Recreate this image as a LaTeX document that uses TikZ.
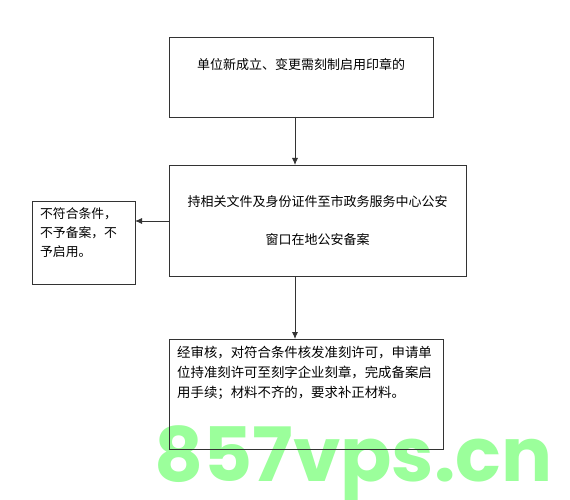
\documentclass[tikz,border=0pt]{standalone}
\usepackage{fontspec}
\setmainfont{Noto Sans CJK SC}
\newfontfamily\wmfont{Poppins}
\usetikzlibrary{arrows.meta}
\definecolor{wmgreen}{RGB}{155,255,155}
\begin{document}
\begin{tikzpicture}[x=1bp,y=-1bp,
  box/.style={draw=black!80,line width=0.9bp},
  txt/.style={inner sep=0pt,font=\fontsize{13bp}{20bp}\selectfont},
  arr/.style={draw=black!80,line width=0.9bp,-{Latex[length=7bp,width=6bp]}}]
\useasboundingbox (0,0) rectangle (570,500);
\fill[white] (0,0) rectangle (570,500);
% watermark
\node[anchor=base west,inner sep=0pt,text=wmgreen,font=\wmfont\bfseries\fontsize{75bp}{75bp}\selectfont,xscale=1.01] (wm) at (154,481) {857vps.cn};
% boxes
\draw[box] (169,37) rectangle (433,117);
\coordinate (b1s) at (295,117);
\node[txt] (t1) at (301,65) {单位新成立、变更需刻制启用印章的};
\draw[box] (169,165) rectangle (466,276);
\coordinate (b2n) at (295,165);
\coordinate (b2s) at (295,276);
\coordinate (b2w) at (169,221);
\node[txt] (t2a) at (317.5,202) {持相关文件及身份证件至市政务服务中心公安};
\node[txt] (t2b) at (317.5,240) {窗口在地公安备案};
\draw[box] (32,201) rectangle (135,284);
\coordinate (b4e) at (135,221);
\node[txt,anchor=north west,align=left,font=\fontsize{12.8bp}{19bp}\selectfont] (t4) at (40,208) {不符合条件，\\不予备案，不\\予启用。};
\draw[box] (169,339) rectangle (443,449);
\coordinate (b3n) at (295,339);
\node[txt,anchor=north west,align=left,font=\fontsize{13.4bp}{20bp}\selectfont] (t3) at (177,346) {经审核，对符合条件核发准刻许可，申请单\\位持准刻许可至刻字企业刻章，完成备案启\\用手续；材料不齐的，要求补正材料。};
% arrows
\draw[arr] (b1s) -- (b2n);
\draw[arr] (b2s) -- (b3n);
\draw[arr] (b2w) -- (b4e);
\end{tikzpicture}
\end{document}
